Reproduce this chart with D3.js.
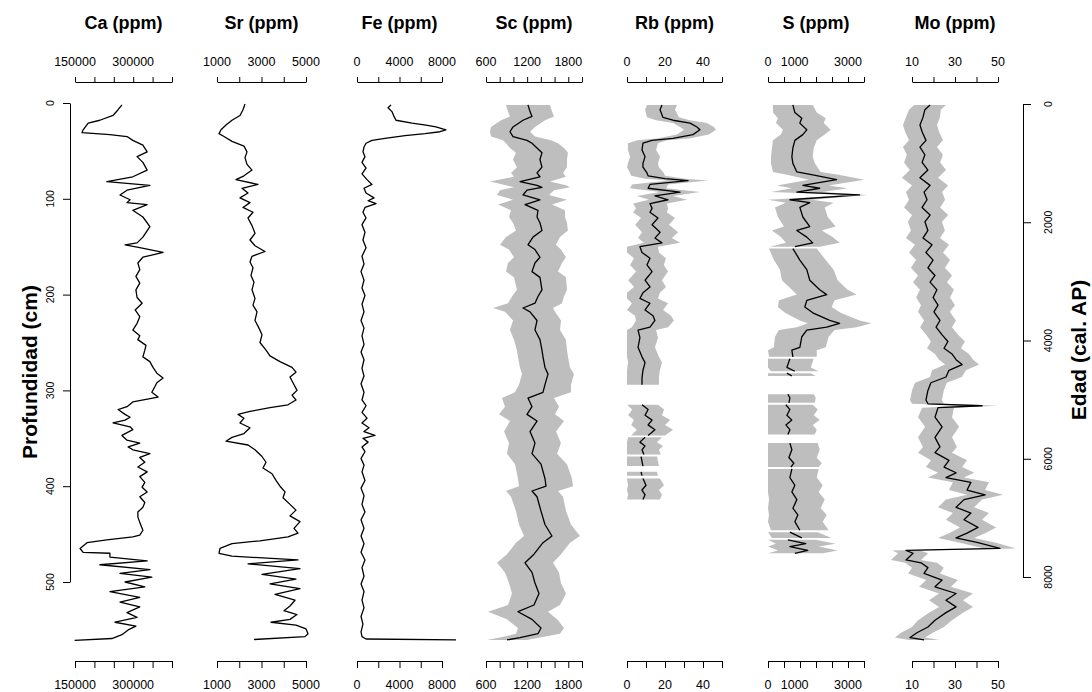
<!DOCTYPE html>
<html>
<head>
<meta charset="utf-8">
<script src="https://cdn.jsdelivr.net/npm/d3@7/dist/d3.min.js"></script>
<style>
  body { margin: 0; background: #fff; }
  svg { display: block; font-family: "Liberation Sans", Arial, Helvetica, sans-serif; }
</style>
</head>
<body>
<svg id="chart" width="1092" height="692"></svg>
<script>
// depth in cm, values in ppm; sd arrays give the half width of the grey band
const caDepth = [2,7,13,18,21,28,31,33,35,39,44,51,56,62,70,77,82,86,91,96,101,104,106,112,119,129,140,146,148,151,156,161,167,174,181,188,195,203,209,216,223,230,237,243,247,253,258,265,270,276,282,287,292,296,302,307,312,317,320,325,328,331,334,338,341,347,352,355,359,362,366,370,375,380,385,390,396,401,406,411,417,422,427,432,438,446,451,453,456,459,465,469,470,474,478,482,487,491,495,500,505,510,516,521,526,532,537,542,546,550,555,559,561];
const caValue = [271000,261000,248000,214000,184000,171000,168000,240000,284000,299000,325000,336000,310000,325000,336000,299000,232000,343000,284000,266000,292000,284000,336000,299000,325000,343000,325000,310000,279000,317000,377000,325000,312000,317000,307000,317000,307000,310000,323000,305000,317000,310000,299000,317000,312000,333000,330000,325000,343000,351000,361000,377000,361000,356000,348000,364000,299000,284000,261000,279000,292000,279000,248000,292000,299000,271000,284000,317000,287000,299000,343000,317000,330000,312000,336000,317000,330000,323000,336000,317000,330000,325000,312000,312000,317000,325000,317000,299000,232000,181000,163000,171000,240000,240000,336000,214000,343000,266000,348000,279000,330000,240000,317000,266000,317000,284000,310000,253000,307000,287000,271000,245000,149000];

const srDepth = [1,7,13,18,23,28,32,35,40,45,51,57,64,70,76,80,85,89,94,99,104,109,114,120,128,136,143,149,155,160,166,172,180,187,195,204,211,218,227,235,242,250,258,264,270,276,281,286,292,300,305,310,315,318,322,325,329,334,339,345,349,353,357,362,369,375,381,387,394,400,406,412,419,425,431,437,444,449,453,457,460,465,470,473,477,481,486,492,497,502,507,513,519,525,530,534,539,542,545,549,554,557,560];
const srValue = [2258,2168,2034,1674,1404,1180,1090,1315,1674,2213,2348,2258,2348,2573,2213,1854,2843,2124,2393,2034,2483,2168,2618,2393,2573,2708,2483,2708,3157,2573,2483,2618,2528,2663,2573,2708,2618,2798,2708,2887,3022,2932,3202,3382,3831,4371,4550,4281,4415,4595,4371,4550,4191,3382,2483,1944,2213,2034,2483,2213,1674,1404,2393,2708,3022,3202,3067,3472,3651,3831,4056,3966,4281,4550,4281,4730,4460,4640,4191,2932,1674,1135,1090,1674,4640,2393,4730,3022,4550,3382,4730,3607,4505,4281,4011,4595,4281,3427,4550,5000,5090,4955,2663];

const feDepth = [2,5,9,14,18,21,23,25,28,30,32,34,37,39,42,46,51,56,62,68,74,80,85,89,94,99,102,105,109,114,120,127,135,143,151,160,168,176,185,193,201,210,218,227,235,243,252,260,268,277,285,293,302,310,316,323,329,334,339,343,347,350,354,359,364,371,378,385,394,402,410,419,427,435,444,452,460,469,477,485,494,502,510,519,527,536,544,552,557,559.5,560.5];
const feValue = [3200,2920,3290,3480,3670,5180,6490,7430,8370,7810,6400,4520,2630,1410,850,660,560,750,470,850,470,940,1410,660,850,1600,1040,1790,750,560,850,470,750,560,850,470,660,380,660,470,750,470,660,380,660,470,660,380,660,470,660,380,660,470,850,470,940,470,1130,660,1690,560,1040,470,750,380,660,470,750,380,660,470,750,380,660,380,660,380,750,470,660,380,660,470,660,380,560,380,470,850,9320];

const scDepth = [2,9,14,18,25,30,35,39,42,47,52,59,67,73,77,82,86,88,91,96,101,106,112,119,125,133,140,148,153,161,167,176,182,195,202,209,214,218,227,237,247,258,265,276,283,294,302,308,317,325,332,343,355,366,377,392,400,405,411,426,440,452,459,471,480,490,501,512,524,531,539,548,554,558,560.5];
const scValue = [1212,1242,1271,1140,994,950,994,1198,1271,1344,1416,1387,1416,1344,1387,1096,1344,1416,1198,1140,1387,1169,1358,1344,1387,1416,1285,1212,1314,1387,1314,1271,1387,1416,1358,1314,1140,1242,1344,1314,1387,1416,1431,1460,1504,1460,1431,1212,1271,1198,1344,1242,1314,1271,1402,1460,1475,1271,1344,1402,1460,1562,1431,1300,1169,1271,1314,1373,1300,1067,1271,1402,1358,1096,906];
const scSd = [321,321,321,321,321,292,321,350,379,394,379,394,365,379,379,437,437,408,394,379,394,394,394,408,394,379,394,408,379,379,394,379,379,365,379,394,437,365,350,365,379,365,365,365,379,379,408,379,394,408,394,379,379,365,379,394,394,379,379,365,379,408,394,394,408,394,379,394,379,437,365,336,321,292,292];

const rbDepth = [2,7,15,18,21,25,28,33,37,39,42,49,56,63,67,73,76,79,81,85,89,93,97,101,105,110,114,120,127,135,141,146,150,156,162,169,176,185,192,198,204,209,216,222,227,234,237,245,255,265,271,279,287,294,304,315,320,326,331,336,341,347,348,349,354,358,362,367,368,369,379,382,385,389,390,392,399,404,409,414];
const rbValue = [18.4,17.4,18.9,24.2,33.2,36.8,38.4,34.7,24.2,13.2,8.4,7.9,9.5,8.4,8.4,10.5,11.1,20,32.1,12.1,11.1,27.9,14.7,21.6,12.1,13.2,12.1,16.3,13.2,17.4,14.7,18.4,6.8,7.9,12.1,10.5,13.2,9.5,12.1,8.4,6.8,12.1,9.5,13.7,14.7,12.1,5.8,6.8,5.8,7.9,9.5,8.4,7.9,7.9,null,7.9,11.1,9.5,13.2,11.1,14.7,11.1,null,9.5,6.8,9.5,7.9,8.9,null,7.4,8.4,null,7.4,7.9,null,8.4,10,7.9,9.5,8.4];
const rbSd = [7.9,7.9,8.4,8.9,8.9,8.9,8.4,8.4,8.4,7.9,7.9,7.4,7.9,7.9,8.4,8.9,8.9,10.5,10.5,9.5,9.5,10.5,9.5,10,8.9,8.4,8.9,8.9,8.9,9.5,8.9,9.5,9.5,8.9,8.4,8.9,8.4,8.9,8.4,8.9,9.5,9.5,9.5,9.5,10,9.5,9.5,9.5,8.9,8.9,8.9,8.9,8.9,8.9,null,8.4,8.4,8.9,9.5,8.9,9.5,8.9,null,8.9,8.9,9.5,8.9,8.9,null,8.4,8.4,null,8.4,8.4,null,8.9,9.5,8.9,8.9,8.9];

const sDepth = [2,10,16,21,28,33,39,47,56,63,72,75,80,86,89,93,96,101,104,109,119,129,133,140,146,150,151,152,164,174,185,195,200,206,213,219,227,230,234,237,244,255,258,265,266,267,276,280,281,282,285,290,304,308,313,314,315,320,326,331,336,341,346,350,355,362,370,376,380,381,382,391,399,406,414,423,430,437,446,447,448,454,455,456,460,463,467,470];
const sValue = [933,1007,1268,1194,1455,1306,1007,933,895,933,1082,1679,2574,1306,1940,1082,3432,821,1567,1194,1306,1567,1082,1455,1679,1007,null,933,1194,1455,1567,1940,2201,1455,1380,1679,2313,2686,2201,1455,1268,1194,895,933,null,821,709,1007,null,709,895,null,746,821,783,null,671,821,709,895,671,821,746,null,821,895,783,970,858,null,895,821,1007,895,1082,933,1119,1007,1194,null,821,1268,null,746,1417,821,1492,1007];
const sSd = [746,821,895,895,895,821,821,783,783,821,895,970,1044,970,1044,970,300,821,895,933,933,970,933,970,1007,933,null,895,970,1007,1044,1044,1119,1044,1007,1044,1119,1194,1119,1044,1007,970,933,895,null,895,895,895,null,895,895,null,970,970,970,null,1007,1044,1007,1044,1007,1007,1007,null,1044,1044,1044,1044,1044,null,1007,1007,1044,1007,1044,1044,1082,1044,1082,null,1044,1119,null,1044,1119,1082,1119,1044];

const moDepth = [2,7,15,23,30,39,46,54,62,70,78,86,93,101,109,117,124,133,141,148,156,164,172,180,187,195,203,211,218,227,234,242,249,256,262,268,273,279,286,292,300,310,314,316,318,328,338,349,359,365,373,380,386,391,396,404,409,414,422,428,435,443,449,454,459,465,467,470,477,480,485,491,498,505,512,519,526,532,540,547,553,558,560.5];
const moValue = [18.4,16,15.1,13.7,14.7,16.5,13.7,16,14.7,17.4,13.7,18.4,15.6,17,14.7,18.4,16,17.4,15.1,19.3,16.5,19.8,17.4,20.7,18.4,21.6,19.8,22.1,20.2,23,21.2,24,26.7,24.9,28.6,30.5,33.3,27.2,25.8,18.8,17.4,16.5,17.4,42.6,22.1,20.7,24,20.7,23,20.7,27.2,24.9,30.5,25.8,37.4,35.6,44,34.2,30.5,37.4,34.2,40.7,35.6,30.5,40.7,50.9,7.2,10.5,7.2,14.2,17.4,15.6,24,20.7,30.5,25.8,30.5,25.8,20.7,17.4,12.3,9.1,15.6];
const moSd = [7.4,7.4,7.9,7.9,7.9,7.9,7.9,8.4,8.4,8.4,8.4,8.4,8.4,8.4,8.4,8.4,7.9,7.9,7.9,7.9,7.9,7.9,7.9,7.9,7.9,7.9,7.9,7.9,7.4,7.4,7.4,7.4,7.9,7.9,7.9,7.9,7.9,7.9,7.4,7.4,7.4,7.4,7.4,7.4,7.4,7.9,7.9,7.9,7.9,7.9,8.4,8.4,8.4,8.4,8.4,8.4,8.4,8.4,8.4,8.4,8.4,8.4,8.4,8.4,8.4,7.4,6.5,7,7,7.4,7.4,7.4,7.4,7.4,7.9,7.9,7.9,7.9,7.9,7.4,7.4,7,7];

// axis ticks and labels
const depthTicks = [0, 100, 200, 300, 400, 500];
const ageTicks = [0, 2000, 4000, 6000, 8000];

const panels = [
  { title: 'Ca (ppm)', depth: caDepth, value: caValue, domain: [150000, 400000], range: [75, 172],
    ticks: [150000, 200000, 250000, 300000, 350000, 400000], labels: [150000, 300000] },
  { title: 'Sr (ppm)', depth: srDepth, value: srValue, domain: [1000, 5000], range: [217, 306],
    ticks: [1000, 2000, 3000, 4000, 5000], labels: [1000, 3000, 5000] },
  { title: 'Fe (ppm)', depth: feDepth, value: feValue, domain: [0, 8000], range: [357, 442],
    ticks: [0, 2000, 4000, 6000, 8000], labels: [0, 4000, 8000] },
  { title: 'Sc (ppm)', depth: scDepth, value: scValue, sd: scSd, domain: [600, 2000], range: [486, 582],
    ticks: [600, 800, 1000, 1200, 1400, 1600, 1800, 2000], labels: [600, 1200, 1800] },
  { title: 'Rb (ppm)', depth: rbDepth, value: rbValue, sd: rbSd, domain: [0, 50], range: [627, 722],
    ticks: [0, 10, 20, 30, 40, 50], labels: [0, 20, 40] },
  { title: 'S (ppm)', depth: sDepth, value: sValue, sd: sSd, domain: [0, 3600], range: [768, 864],
    ticks: [0, 600, 1200, 1800, 2400, 3000, 3600], labels: [0, 1000, 3000] },
  { title: 'Mo (ppm)', depth: moDepth, value: moValue, sd: moSd, domain: [10, 50], range: [912, 998],
    ticks: [10, 20, 30, 40, 50], labels: [10, 30, 50] }
];

const svg = d3.select('#chart');
const topY = 82, bottomY = 661;

const yDepth = d3.scaleLinear().domain([0, 500]).range([103, 582]);
const yAge = d3.scaleLinear().domain([0, 8000]).range([104, 577]);

panels.forEach(p => {
  const x = d3.scaleLinear().domain(p.domain).range(p.range);
  const rows = p.depth.map((d, i) => ({ d, v: p.value[i], s: p.sd ? p.sd[i] : 0 }));
  const g = svg.append('g');

  if (p.sd) {
    const band = d3.area()
      .defined(r => r.v != null)
      .y(r => yDepth(r.d))
      .x0(r => x(Math.max(0, r.v - r.s)))
      .x1(r => x(r.v + r.s));
    g.append('path').datum(rows).attr('d', band).attr('fill', '#bebebe');
  }

  const line = d3.line()
    .defined(r => r.v != null)
    .x(r => x(r.v))
    .y(r => yDepth(r.d));
  g.append('path').datum(rows)
    .attr('d', line)
    .attr('fill', 'none')
    .attr('stroke', '#000')
    .attr('stroke-width', 1.3)
    .attr('stroke-linejoin', 'round');

  // top and bottom scales
  [[d3.axisTop, topY, 66, 5], [d3.axisBottom, bottomY, 689, 7]].forEach(([axisFn, y, ty, len]) => {
    const ax = g.append('g')
      .attr('transform', `translate(0,${y})`)
      .call(axisFn(x).tickValues(p.ticks).tickSize(len).tickSizeOuter(0).tickFormat(''));
    ax.selectAll('path, line').attr('stroke', '#000');
    g.selectAll(null).data(p.labels).join('text')
      .attr('x', d => x(d))
      .attr('y', ty)
      .attr('text-anchor', 'middle')
      .attr('font-size', 12.5)
      .text(d => d);
  });

  g.append('text')
    .attr('x', (p.range[0] + p.range[1]) / 2)
    .attr('y', 29)
    .attr('text-anchor', 'middle')
    .attr('font-size', 18)
    .attr('font-weight', 'bold')
    .text(p.title);
});

// depth axis (left)
const depthAx = svg.append('g')
  .attr('transform', 'translate(70,0)')
  .call(d3.axisLeft(yDepth).tickValues(depthTicks).tickSize(7).tickSizeOuter(0).tickFormat(''));
depthAx.selectAll('path, line').attr('stroke', '#000');
svg.selectAll(null).data(depthTicks).join('text')
  .attr('transform', d => `translate(54,${yDepth(d)}) rotate(-90)`)
  .attr('text-anchor', 'middle')
  .attr('font-size', 10.5)
  .text(d => d);
svg.append('text')
  .attr('transform', 'translate(37,372) rotate(-90)')
  .attr('text-anchor', 'middle')
  .attr('font-size', 21)
  .attr('font-weight', 'bold')
  .text('Profundidad  (cm)');

// age axis (right)
const ageAx = svg.append('g')
  .attr('transform', 'translate(1023,0)')
  .call(d3.axisRight(yAge).tickValues(ageTicks).tickSize(8).tickSizeOuter(0).tickFormat(''));
ageAx.selectAll('path, line').attr('stroke', '#000');
svg.selectAll(null).data(ageTicks).join('text')
  .attr('transform', d => `translate(1052,${yAge(d)}) rotate(-90)`)
  .attr('text-anchor', 'middle')
  .attr('font-size', 10.5)
  .text(d => d);
svg.append('text')
  .attr('transform', 'translate(1086,350) rotate(-90)')
  .attr('text-anchor', 'middle')
  .attr('font-size', 21)
  .attr('font-weight', 'bold')
  .text('Edad (cal. AP)');
</script>
</body>
</html>
